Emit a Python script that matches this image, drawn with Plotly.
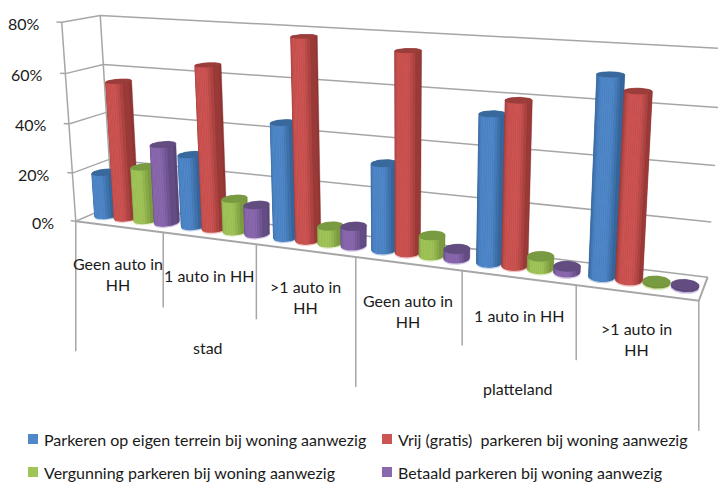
import numpy as np
import plotly.graph_objects as go

# ---- data -------------------------------------------------------------
groups = ["stad", "platteland"]
categories = ["Geen auto in<br>HH", "1 auto in HH", ">1 auto in<br>HH",
              "Geen auto in<br>HH", "1 auto in HH", ">1 auto in<br>HH"]
y_ticks = [0, 20, 40, 60, 80]
names = ["Parkeren op eigen terrein bij woning aanwezig",
         "Vrij (gratis)  parkeren bij woning aanwezig",
         "Vergunning parkeren bij woning aanwezig",
         "Betaald parkeren bij woning aanwezig"]
eigen = [18, 29, 45, 33, 54.5, 71]
vrij = [56, 65, 78, 75, 60, 66]
vergunning = [22, 13, 6.5, 7.5, 4.5, 0.5]
betaald = [32, 11.5, 7.5, 3.5, 2, 0.5]
series = [eigen, vrij, vergunning, betaald]

# ---- style ------------------------------------------------------------
mid = ["#4F87C8", "#CC5452", "#A0C458", "#8A68AE"]
edge = ["#2F5D90", "#8E3432", "#739039", "#59457A"]
cap = ["#38689C", "#9B3D3B", "#789A40", "#624C80"]
rim = ["#B5CDEB", "#EFBDBB", "#DCEBBA", "#D0C0E4"]
GRID = "#A6A6A6"
FONT = "Lato"
TXT = "#1a1a1a"

# ---- camera: fitted on the reference's wall and floor corners ----------
calib = []
for w, p in zip(y_ticks, [(76, 220.7), (72.5, 173), (68.5, 124), (65, 74), (61.7, 23.3)]):
    calib.append(((0, w, 0), p))
for w, p in zip(y_ticks, [(111, 207), (110, 159), (107, 112), (103.5, 65), (100, 14)]):
    calib.append(((0, w, 1), p))
for w, p in zip(y_ticks, [(707, 277), (711, 222), (716, 166), (719, 108), (722, 48)]):
    calib.append(((6, w, 1), p))
for u, p in enumerate([(163, 232), (256, 244), (357, 257), (462, 270.4), (575, 285), (700, 301)], 1):
    calib.append(((u, 0, 0), p))

A = []
for (X, Y, Z), (a, b) in calib:
    Z_ = [X, Y / 40, Z, 1]
    A.append(Z_ + [0] * 4 + [-a * c for c in Z_])
    A.append([0] * 4 + Z_ + [-b * c for c in Z_])
P = np.linalg.svd(np.array(A, float))[2][-1].reshape(3, 4)


def proj(u, w, v):
    u, w, v = np.broadcast_arrays(np.asarray(u, float), np.asarray(w, float), np.asarray(v, float))
    h = P @ np.stack([u, w / 40, v, np.ones_like(u)])
    return h[0] / h[2], h[1] / h[2]


def hull(px, py):
    pts = sorted(set(zip(np.round(px, 3).tolist(), np.round(py, 3).tolist())))
    def half(seq):
        out = []
        for q in seq:
            while len(out) > 1 and ((out[-1][0] - out[-2][0]) * (q[1] - out[-2][1])
                                    - (out[-1][1] - out[-2][1]) * (q[0] - out[-2][0])) <= 0:
                out.pop()
            out.append(q)
        return out[:-1]
    h = half(pts) + half(pts[::-1])
    return [p[0] for p in h] + [h[0][0]], [p[1] for p in h] + [h[0][1]]


def mix(c1, c2, t):
    a = [int(c1[i:i + 2], 16) for i in (1, 3, 5)]
    b = [int(c2[i:i + 2], 16) for i in (1, 3, 5)]
    return "rgb(%d,%d,%d)" % tuple(round(a[i] + (b[i] - a[i]) * t) for i in range(3))


fig = go.Figure()


def line(xs, ys, width=1.5):
    fig.add_trace(go.Scatter(x=xs, y=ys, mode="lines", line=dict(color=GRID, width=width),
                             hoverinfo="skip", showlegend=False))


def poly(xs, ys, color):
    fig.add_trace(go.Scatter(x=list(xs), y=list(ys), mode="lines", fill="toself", fillcolor=color,
                             line=dict(color=color, width=0.4), hoverinfo="skip", showlegend=False))


# walls and floor
for w in y_ticks:
    ax, ay = proj([-0.06, 0, 0], w, [0, 0, 1])
    bx, by = proj([6], w, [1])
    line(list(ax) + list(bx), list(ay) + list(by))
for v in (0, 1):
    x_, y_ = proj(0, np.array([0, 80]), v)
    line(x_, y_)
x_, y_ = proj([0, 6, 6], 0, [0, 0, 1])
line(x_, y_, 2)

# drop lines under the category axis
drop = [130, 75, 75, 130, 75, 75, 130]
for u, d in enumerate(drop):
    fx, fy = proj(u, 0, 0)
    line([fx, fx], [fy, fy + d])

# cylinders, drawn left to right
R_U, R_V = 0.113, 0.23
OFFSETS = [0.155, 0.385, 0.615, 0.85]
N = 14
th = np.linspace(0, 2 * np.pi, 49)
for c in range(len(categories)):
    for s, vals in enumerate(series):
        val = vals[c]
        cu = c + OFFSETS[s]
        ru, rv = R_U, R_V
        ring = lambda w: proj(cu + ru * np.cos(th), w, 0.5 + rv * np.sin(th))
        # pale rim under the foot
        rx, ry = ring(-0.6)
        poly(rx, ry, rim[s])
        bx, by = ring(0)
        tx, ty = ring(val)
        hx, hy = hull(np.r_[bx, tx], np.r_[by, ty])
        poly(hx, hy, edge[s])
        # shaded strips round the front of the cylinder
        if val > 1:
            xs = np.linspace(-1, 1, N + 1)
            for i in range(N):
                a1, a2 = xs[i], xs[i + 1]
                sweep = np.linspace(a1, a2, 3)
                su = cu + ru * sweep
                sv = 0.5 - rv * np.sqrt(1 - sweep ** 2)
                x0, y0 = proj(su, 0, sv)
                x1, y1 = proj(su, val, sv)
                m = (a1 + a2) / 2
                t = np.clip((1 - abs(m)) / 0.55, 0, 1) ** 0.8
                poly(np.r_[x0, x1[::-1], x0[0]], np.r_[y0, y1[::-1], y0[0]], mix(edge[s], mid[s], t))
        poly(tx, ty, cap[s])

# value axis labels
ann = []
for w in y_ticks:
    fx, fy = proj(0, w, 0)
    ann.append(dict(x=float(fx) - 20, y=float(fy) + 1, text=f"{w}%", xanchor="right", yanchor="middle",
                    font=dict(size=16)))
# category labels
label_pos = [(118, 274), (209, 275), (305, 297), (408, 311), (519, 315), (636, 339)]
for t, (x, y) in zip(categories, label_pos):
    ann.append(dict(x=x, y=y, text=t, xanchor="center", yanchor="middle", font=dict(size=16)))
for t, (x, y) in zip(groups, [(208, 347), (518, 388)]):
    ann.append(dict(x=x, y=y, text=t, xanchor="center", yanchor="middle", font=dict(size=16)))

# legend rows
legend_pos = [(33, 439), (387, 439), (33, 472), (387, 472)]
for n, col, (x, y) in zip(names, mid, legend_pos):
    fig.add_trace(go.Scatter(x=[x], y=[y], mode="markers", marker=dict(symbol="square", size=10, color=col),
                             name=n, hoverinfo="name", showlegend=False))
    ann.append(dict(x=x + 9, y=y, text=n, xanchor="left", yanchor="middle", font=dict(size=16)))

for a in ann:
    a.update(showarrow=False, xref="x", yref="y")
    a["font"].update(family=FONT, color=TXT)

fig.update_layout(
    width=718, height=482, margin=dict(l=0, r=0, t=0, b=0),
    plot_bgcolor="white", paper_bgcolor="white", showlegend=False,
    xaxis=dict(range=[0, 718], visible=False, fixedrange=True),
    yaxis=dict(range=[482, 0], visible=False, fixedrange=True),
    annotations=ann,
)
fig.write_html("out.html", config=dict(displayModeBar=False),
               post_script="document.body.style.margin='0';document.documentElement.style.overflow='hidden';")
